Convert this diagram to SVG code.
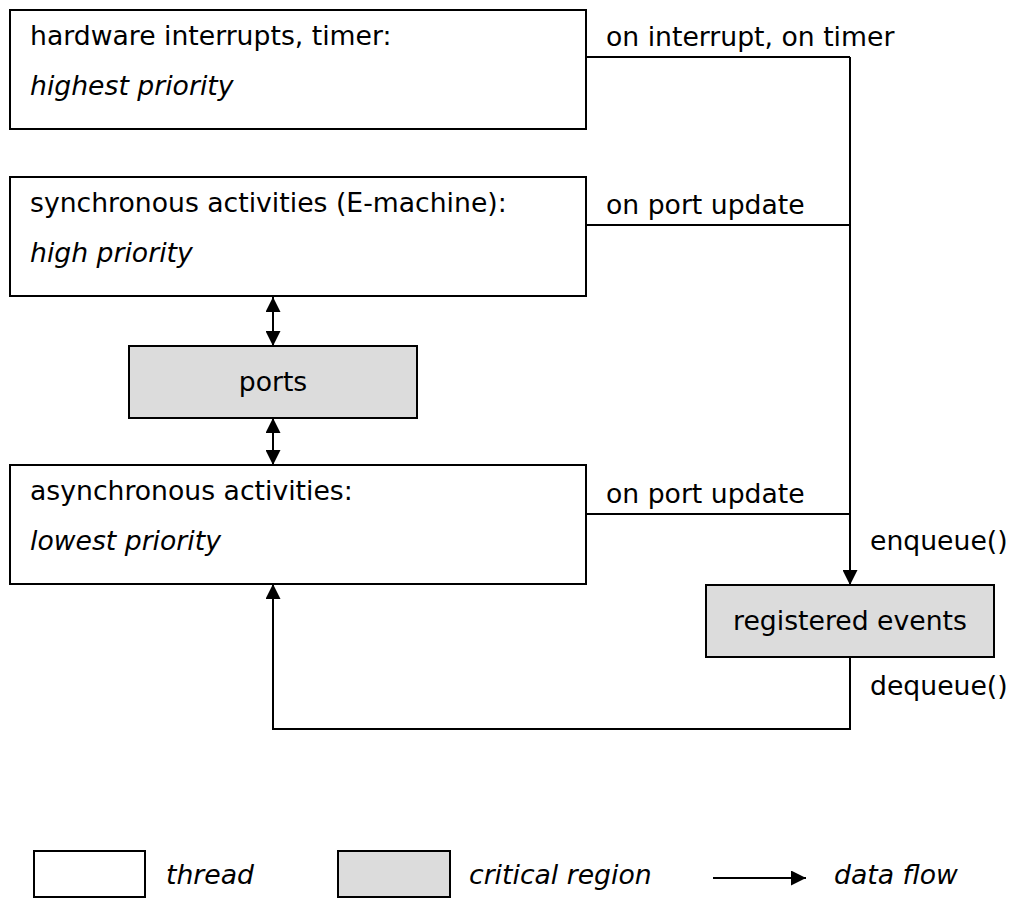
<svg xmlns="http://www.w3.org/2000/svg" width="1010" height="898" viewBox="0 0 1010 898">
  <style>
    text { font-family: "DejaVu Sans", Verdana, sans-serif; font-size: 26.67px; fill: #000; }
    .it { font-style: italic; }
    .thread { fill: #fff; stroke: #000; stroke-width: 2; }
    .crit { fill: #dcdcdc; stroke: #000; stroke-width: 2; }
    .wire { fill: none; stroke: #000; stroke-width: 2; }
  </style>
  <defs>
    <marker id="head" viewBox="0 0 15 15" refX="15" refY="7.5" markerWidth="15" markerHeight="15" markerUnits="userSpaceOnUse" orient="auto-start-reverse">
      <path d="M0,0 L15,7.5 L0,15 Z" fill="#000"/>
    </marker>
  </defs>
  <rect width="1010" height="898" fill="#fff"/>

  <!-- threads -->
  <g id="hw">
    <rect class="thread" x="10" y="10" width="576" height="119"/>
    <text x="30" y="45">hardware interrupts, timer:</text>
    <text x="30" y="95" class="it">highest priority</text>
  </g>
  <g id="sync">
    <rect class="thread" x="10" y="177" width="576" height="119"/>
    <text x="30" y="212">synchronous activities (E-machine):</text>
    <text x="30" y="262" class="it">high priority</text>
  </g>
  <g id="async">
    <rect class="thread" x="10" y="465" width="576" height="119"/>
    <text x="30" y="500">asynchronous activities:</text>
    <text x="30" y="550" class="it">lowest priority</text>
  </g>

  <!-- critical regions -->
  <g id="ports">
    <rect class="crit" x="129" y="346" width="288" height="72"/>
    <text x="273" y="391" text-anchor="middle">ports</text>
  </g>
  <g id="events">
    <rect class="crit" x="706" y="585" width="288" height="72"/>
    <text x="850" y="630" text-anchor="middle">registered events</text>
  </g>

  <!-- connectors -->
  <g id="connectors">
    <path class="wire" d="M586,57 H850"/>
    <path class="wire" d="M586,225 H850"/>
    <path class="wire" d="M586,514 H850"/>
    <path class="wire" d="M850,57 V585" marker-end="url(#head)"/>
    <path class="wire" d="M850,657 V729 H273 V584" marker-end="url(#head)"/>
    <path class="wire" d="M273,297 V346" marker-start="url(#head)" marker-end="url(#head)"/>
    <path class="wire" d="M273,418 V465" marker-start="url(#head)" marker-end="url(#head)"/>
    <text x="606" y="46">on interrupt, on timer</text>
    <text x="606" y="214">on port update</text>
    <text x="606" y="503">on port update</text>
    <text x="870" y="550">enqueue()</text>
    <text x="870" y="695">dequeue()</text>
  </g>

  <!-- legend -->
  <g id="legend">
    <rect class="thread" x="34" y="851" width="111" height="46"/>
    <text x="166" y="884" class="it">thread</text>
    <rect class="crit" x="338" y="851" width="112" height="46"/>
    <text x="469" y="884" class="it">critical region</text>
    <path class="wire" d="M713,878 H806" marker-end="url(#head)"/>
    <text x="834" y="884" class="it">data flow</text>
  </g>
</svg>
